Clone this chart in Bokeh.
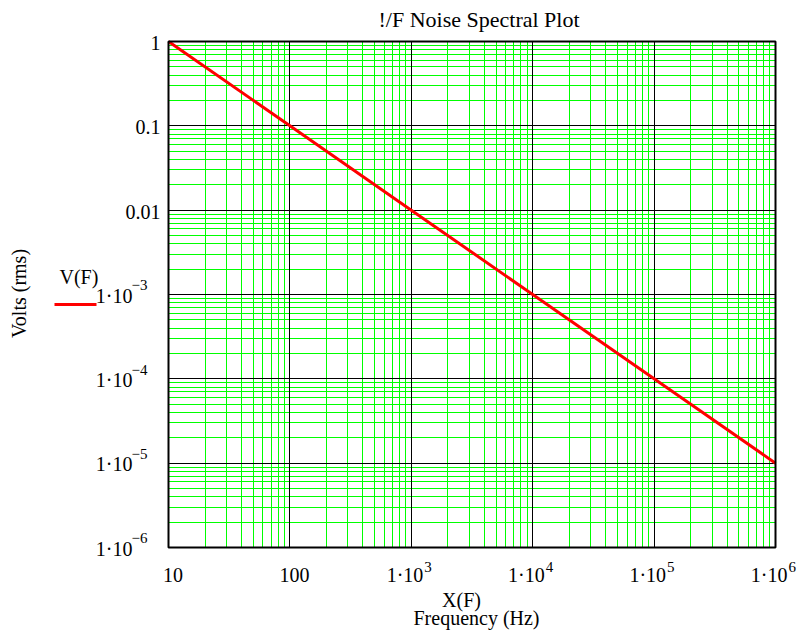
from math import pi
import math
from bokeh.plotting import figure
from bokeh.models import Range1d, Grid, FixedTicker, Label, Arrow, BoxAnnotation
from bokeh.embed import file_html
from bokeh.resources import INLINE

# ---- data ----
freq = [10, 100, 1e3, 1e4, 1e5, 1e6]
volts = [1, 0.1, 0.01, 1e-3, 1e-4, 1e-5]

x_decades = [10, 100, 1e3, 1e4, 1e5, 1e6]
y_decades = [1e-6, 1e-5, 1e-4, 1e-3, 1e-2, 0.1, 1]
x_minor = [m * d for d in x_decades[:-1] for m in range(2, 10)]
y_minor = [m * d for d in y_decades[:-1] for m in range(2, 10)]

x_tick_main = ["10", "100", "1·10", "1·10", "1·10", "1·10"]
x_tick_exp = ["", "", "3", "4", "5", "6"]
y_tick_main = ["1·10", "1·10", "1·10", "1·10", "0.01", "0.1", "1"]
y_tick_exp = ["−6", "−5", "−4", "−3", "", "", ""]

title_text = "!/F Noise Spectral Plot"
x_title1 = "X(F)"
x_title2 = "Frequency (Hz)"
y_title = "Volts (rms)"
legend_text = "V(F)"

FONT = "Liberation Serif"
W, H = 798, 633
# plot-area box in canvas pixels
L, R, T, B = 168, 775, 41, 547
x0, x1 = x_decades[0], x_decades[-1]
y0, y1 = y_decades[0], y_decades[-1]

# extend ranges so the whole canvas is the frame and the box sits at L..R, T..B
xdec = (R - L) / (math.log10(x1) - math.log10(x0))
ydec = (B - T) / (math.log10(y1) - math.log10(y0))
x_lo = 10 ** (math.log10(x0) - L / xdec)
x_hi = 10 ** (math.log10(x1) + (W - R) / xdec)
y_lo = 10 ** (math.log10(y0) - (H - B) / ydec)
y_hi = 10 ** (math.log10(y1) + T / ydec)

p = figure(width=W, height=H, x_axis_type="log", y_axis_type="log",
           x_range=Range1d(x_lo, x_hi), y_range=Range1d(y_lo, y_hi),
           x_axis_location=None, y_axis_location=None,
           min_border=0, min_border_left=0, min_border_right=0,
           min_border_top=0, min_border_bottom=0,
           output_backend="svg", toolbar_location=None,
           background_fill_color="white", border_fill_color="white",
           outline_line_color=None)
p.title.visible = False
p.center = []

p.add_layout(Grid(dimension=0, ticker=FixedTicker(ticks=x_minor), cross_bounds=(y0, y1),
                  grid_line_color="#00ff00", grid_line_width=1))
p.add_layout(Grid(dimension=1, ticker=FixedTicker(ticks=y_minor), cross_bounds=(x0, x1),
                  grid_line_color="#00ff00", grid_line_width=1))
p.add_layout(Grid(dimension=0, ticker=FixedTicker(ticks=x_decades), cross_bounds=(y0, y1),
                  grid_line_color="black", grid_line_width=1))
p.add_layout(Grid(dimension=1, ticker=FixedTicker(ticks=y_decades), cross_bounds=(x0, x1),
                  grid_line_color="black", grid_line_width=1))

p.line(freq, volts, line_color="red", line_width=3)

p.add_layout(BoxAnnotation(left=x0, right=x1, bottom=y0, top=y1, fill_alpha=0,
                           line_color="black", line_width=2, line_alpha=1))


def lab(text, x, y, xo, yo, align="left", size=20, angle=0.0):
    fix = 0.42 * size  # baseline correction observed in rendering
    if angle:
        xo -= fix
    else:
        yo += fix
    p.add_layout(Label(x=x, y=y, x_offset=xo, y_offset=yo, text=text,
                       text_align=align, text_baseline="alphabetic",
                       text_font=FONT, text_font_size=f"{size}px", text_color="black",
                       angle=angle))


# x tick labels
for xv, m, e in zip(x_decades, x_tick_main, x_tick_exp):
    if e:
        lab(m, xv, y0, 12, -36, "right")
        lab(e, xv, y0, 13, -26, "left", 15)
    else:
        lab(m, xv, y0, 4.5, -36, "center")

# y tick labels
for yv, m, e in zip(y_decades, y_tick_main, y_tick_exp):
    if e:
        lab(m, x0, yv, -36, -9.5, "right")
        lab(e, x0, yv, -37, 3, "left", 15)
    else:
        lab(m, x0, yv, -8, -10, "right")

# titles
lab(title_text, x0, y1, 210, 13, "left", 22)
lab(x_title1, x0, y0, 293, -61, "center")
lab(x_title2, x0, y0, 308, -79, "center")
lab(y_title, x0, y0, -141, 254, "center", angle=pi / 2)
lab(legend_text, x0, y0, -109, 262, "left")

# legend swatch (screen units, origin bottom-left of canvas)
p.add_layout(Arrow(end=None, x_start=54, y_start=H - 304, x_end=96, y_end=H - 304,
                   start_units="screen", end_units="screen",
                   line_color="red", line_width=3))

open("out.html", "w").write(file_html(p, INLINE))
